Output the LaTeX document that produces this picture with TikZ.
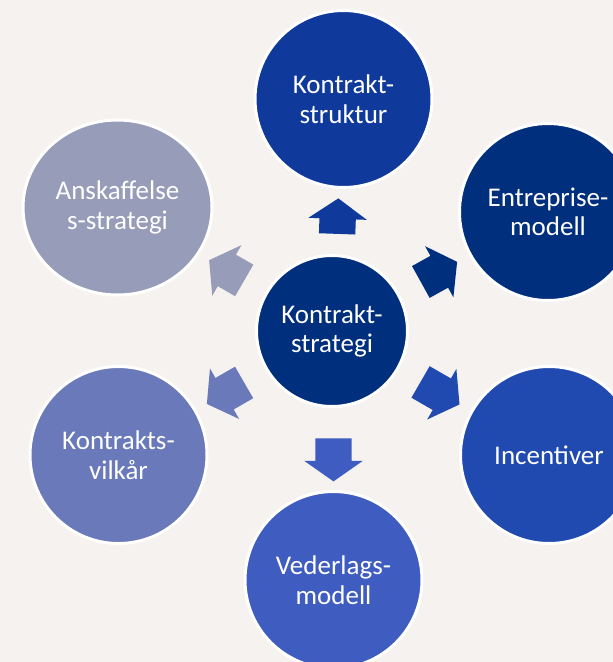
\documentclass[tikz,border=0pt]{standalone}
\usepackage{fontspec}
\setmainfont{Carlito}
\usetikzlibrary{shapes.arrows,shapes.geometric}
\definecolor{bgcol}{RGB}{245,242,239}
\definecolor{navy}{RGB}{0,47,125}
\definecolor{struk}{RGB}{15,58,155}
\definecolor{incen}{RGB}{33,74,176}
\definecolor{veder}{RGB}{63,92,192}
\definecolor{vilk}{RGB}{106,121,185}
\definecolor{anska}{RGB}{151,156,185}
\begin{document}
\begin{tikzpicture}[x=1pt, y=-1pt,
    bubble/.style={circle, draw=white, line width=3pt, text=white, align=center,
        inner sep=0pt, minimum size=177pt, font=\fontsize{27}{29.5}\selectfont},
    pointer/.style={single arrow, inner xsep=0pt, inner ysep=18pt, single arrow head extend=11pt,
        single arrow tip angle=110}]
    \useasboundingbox (0,0) rectangle (613,662);
    \fill[bgcol] (0,0) rectangle (613,662);

    \node[bubble, fill=navy, minimum size=151pt] (ks) at (332,331) {Kontrakt-\\strategi};
    \node[bubble, fill=struk] (kst) at (343.5,99) {Kontrakt-\\struktur};
    \node[bubble, fill=navy] (em) at (548,212) {Entreprise-\\modell};
    \node[bubble, fill=incen] (inc) at (549,455) {Incentiver};
    \node[bubble, fill=veder] (vm) at (333.5,580) {Vederlags-\\modell};
    \node[bubble, fill=vilk] (kv) at (118.5,455) {Kontrakts-\\vilkår};
    \node[bubble, ellipse, fill=anska, minimum width=189pt, minimum height=175pt] (as) at (117.5,207.5) {Anskaffelse\\s-strategi};

    \node[pointer, fill=struk, minimum height=35.5pt, rotate=88] (p1) at (337.5,222.5) {};
    \node[pointer, fill=navy, minimum height=41.5pt, rotate=29] (p2) at (433.4,275) {};
    \node[pointer, fill=incen, minimum height=45pt, rotate=-30] (p3) at (434.5,390) {};
    \node[pointer, fill=veder, minimum height=43pt, rotate=-90] (p4) at (333.5,453.5) {};
    \node[pointer, fill=vilk, minimum height=43pt, rotate=210] (p5) at (231,390) {};
    \node[pointer, fill=anska, minimum height=40.5pt, rotate=150] (p6) at (232.2,273.5) {};
\end{tikzpicture}
\end{document}
